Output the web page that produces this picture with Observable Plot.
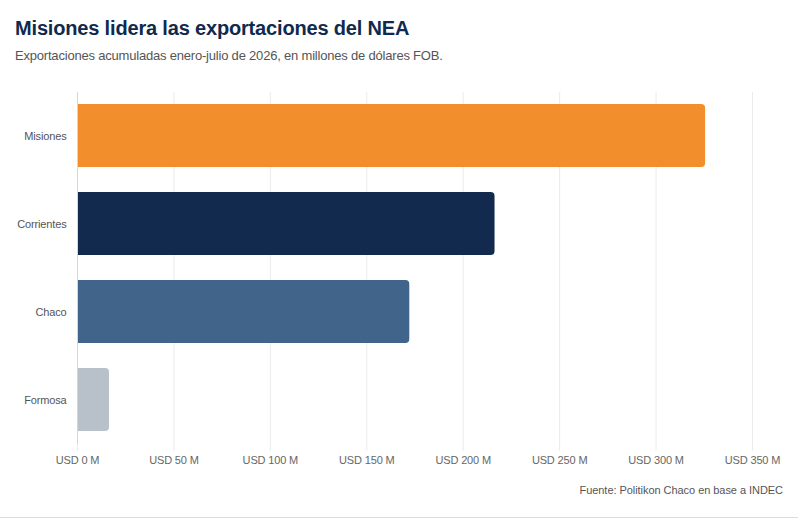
<!DOCTYPE html>
<html>
<head>
<meta charset="utf-8">
<script src="https://cdn.jsdelivr.net/npm/d3@7"></script>
<script src="https://cdn.jsdelivr.net/npm/@observablehq/plot@0.6"></script>
<style>
  html, body { margin: 0; padding: 0; background: #fff; }
  body { width: 798px; height: 519px; position: relative; overflow: hidden; font-family: "Liberation Sans", Arial, Helvetica, sans-serif; }
  #title { position: absolute; left: 15px; top: 17.5px; font-size: 20px; line-height: 21px; font-weight: bold; color: #0f2a4f; white-space: nowrap; letter-spacing: -0.17px; }
  #subtitle { position: absolute; left: 15px; top: 48.5px; font-size: 13px; line-height: 14px; color: #555; white-space: nowrap; letter-spacing: -0.2px; }
  #chart { position: absolute; left: 0; top: 80px; }
  #source { position: absolute; right: 15px; top: 483px; font-size: 11px; line-height: 14px; color: #555; white-space: nowrap; letter-spacing: -0.05px; }
  #border { position: absolute; left: 0; right: 0; top: 517px; height: 0; border-top: 1px solid #dcdcdc; }
  #chart svg text { letter-spacing: -0.15px; }
</style>
</head>
<body>
<div id="title">Misiones lidera las exportaciones del NEA</div>
<div id="subtitle">Exportaciones acumuladas enero-julio de 2026, en millones de dólares FOB.</div>
<div id="chart"></div>
<div id="source">Fuente: Politikon Chaco en base a INDEC</div>
<div id="border"></div>
<script>
const provincias = ["Misiones", "Corrientes", "Chaco", "Formosa"];
const exportaciones = [325.7, 216.5, 172.3, 16.6];
const xTicks = [0, 50, 100, 150, 200, 250, 300, 350];
const palette = ["#f28e2b", "#112a4e", "#41648a", "#b8c0c9"];

const data = provincias.map((p, i) => ({provincia: p, valor: exportaciones[i]}));

const chart = Plot.plot({
  width: 798,
  height: 400,
  marginTop: 12,
  marginBottom: 36,
  marginLeft: 77,
  marginRight: 46,
  style: {fontFamily: "'Liberation Sans', Arial, Helvetica, sans-serif", fontSize: "11px", background: "transparent"},
  x: {domain: [0, 350], ticks: xTicks},
  y: {domain: provincias, paddingInner: 0.28, paddingOuter: 0.14},
  color: {domain: provincias, range: palette},
  marks: [
    Plot.gridX(xTicks, {stroke: "#ebebeb", strokeOpacity: 1}),
    Plot.barX(data, {y: "provincia", x: "valor", fill: "provincia", rx: 4}),
    Plot.barX(data, {y: "provincia", x1: 0, x2: d => d.valor / 2, fill: "provincia"}),
    Plot.ruleY([0], {frameAnchor: "bottom", stroke: "#e4e4e4"}),
    Plot.axisX({ticks: xTicks, tickSize: 7, tickPadding: 5, stroke: "#ebebeb", fill: "#666", tickFormat: d => `USD ${d} M`, label: null, fontSize: 11}),
    Plot.ruleX([0], {stroke: "#d6d6d6"}),
    Plot.axisY({tickSize: 0, tickPadding: 11, fill: "#555", label: null, fontSize: 11})
  ]
});
document.getElementById("chart").appendChild(chart);
</script>
</body>
</html>
